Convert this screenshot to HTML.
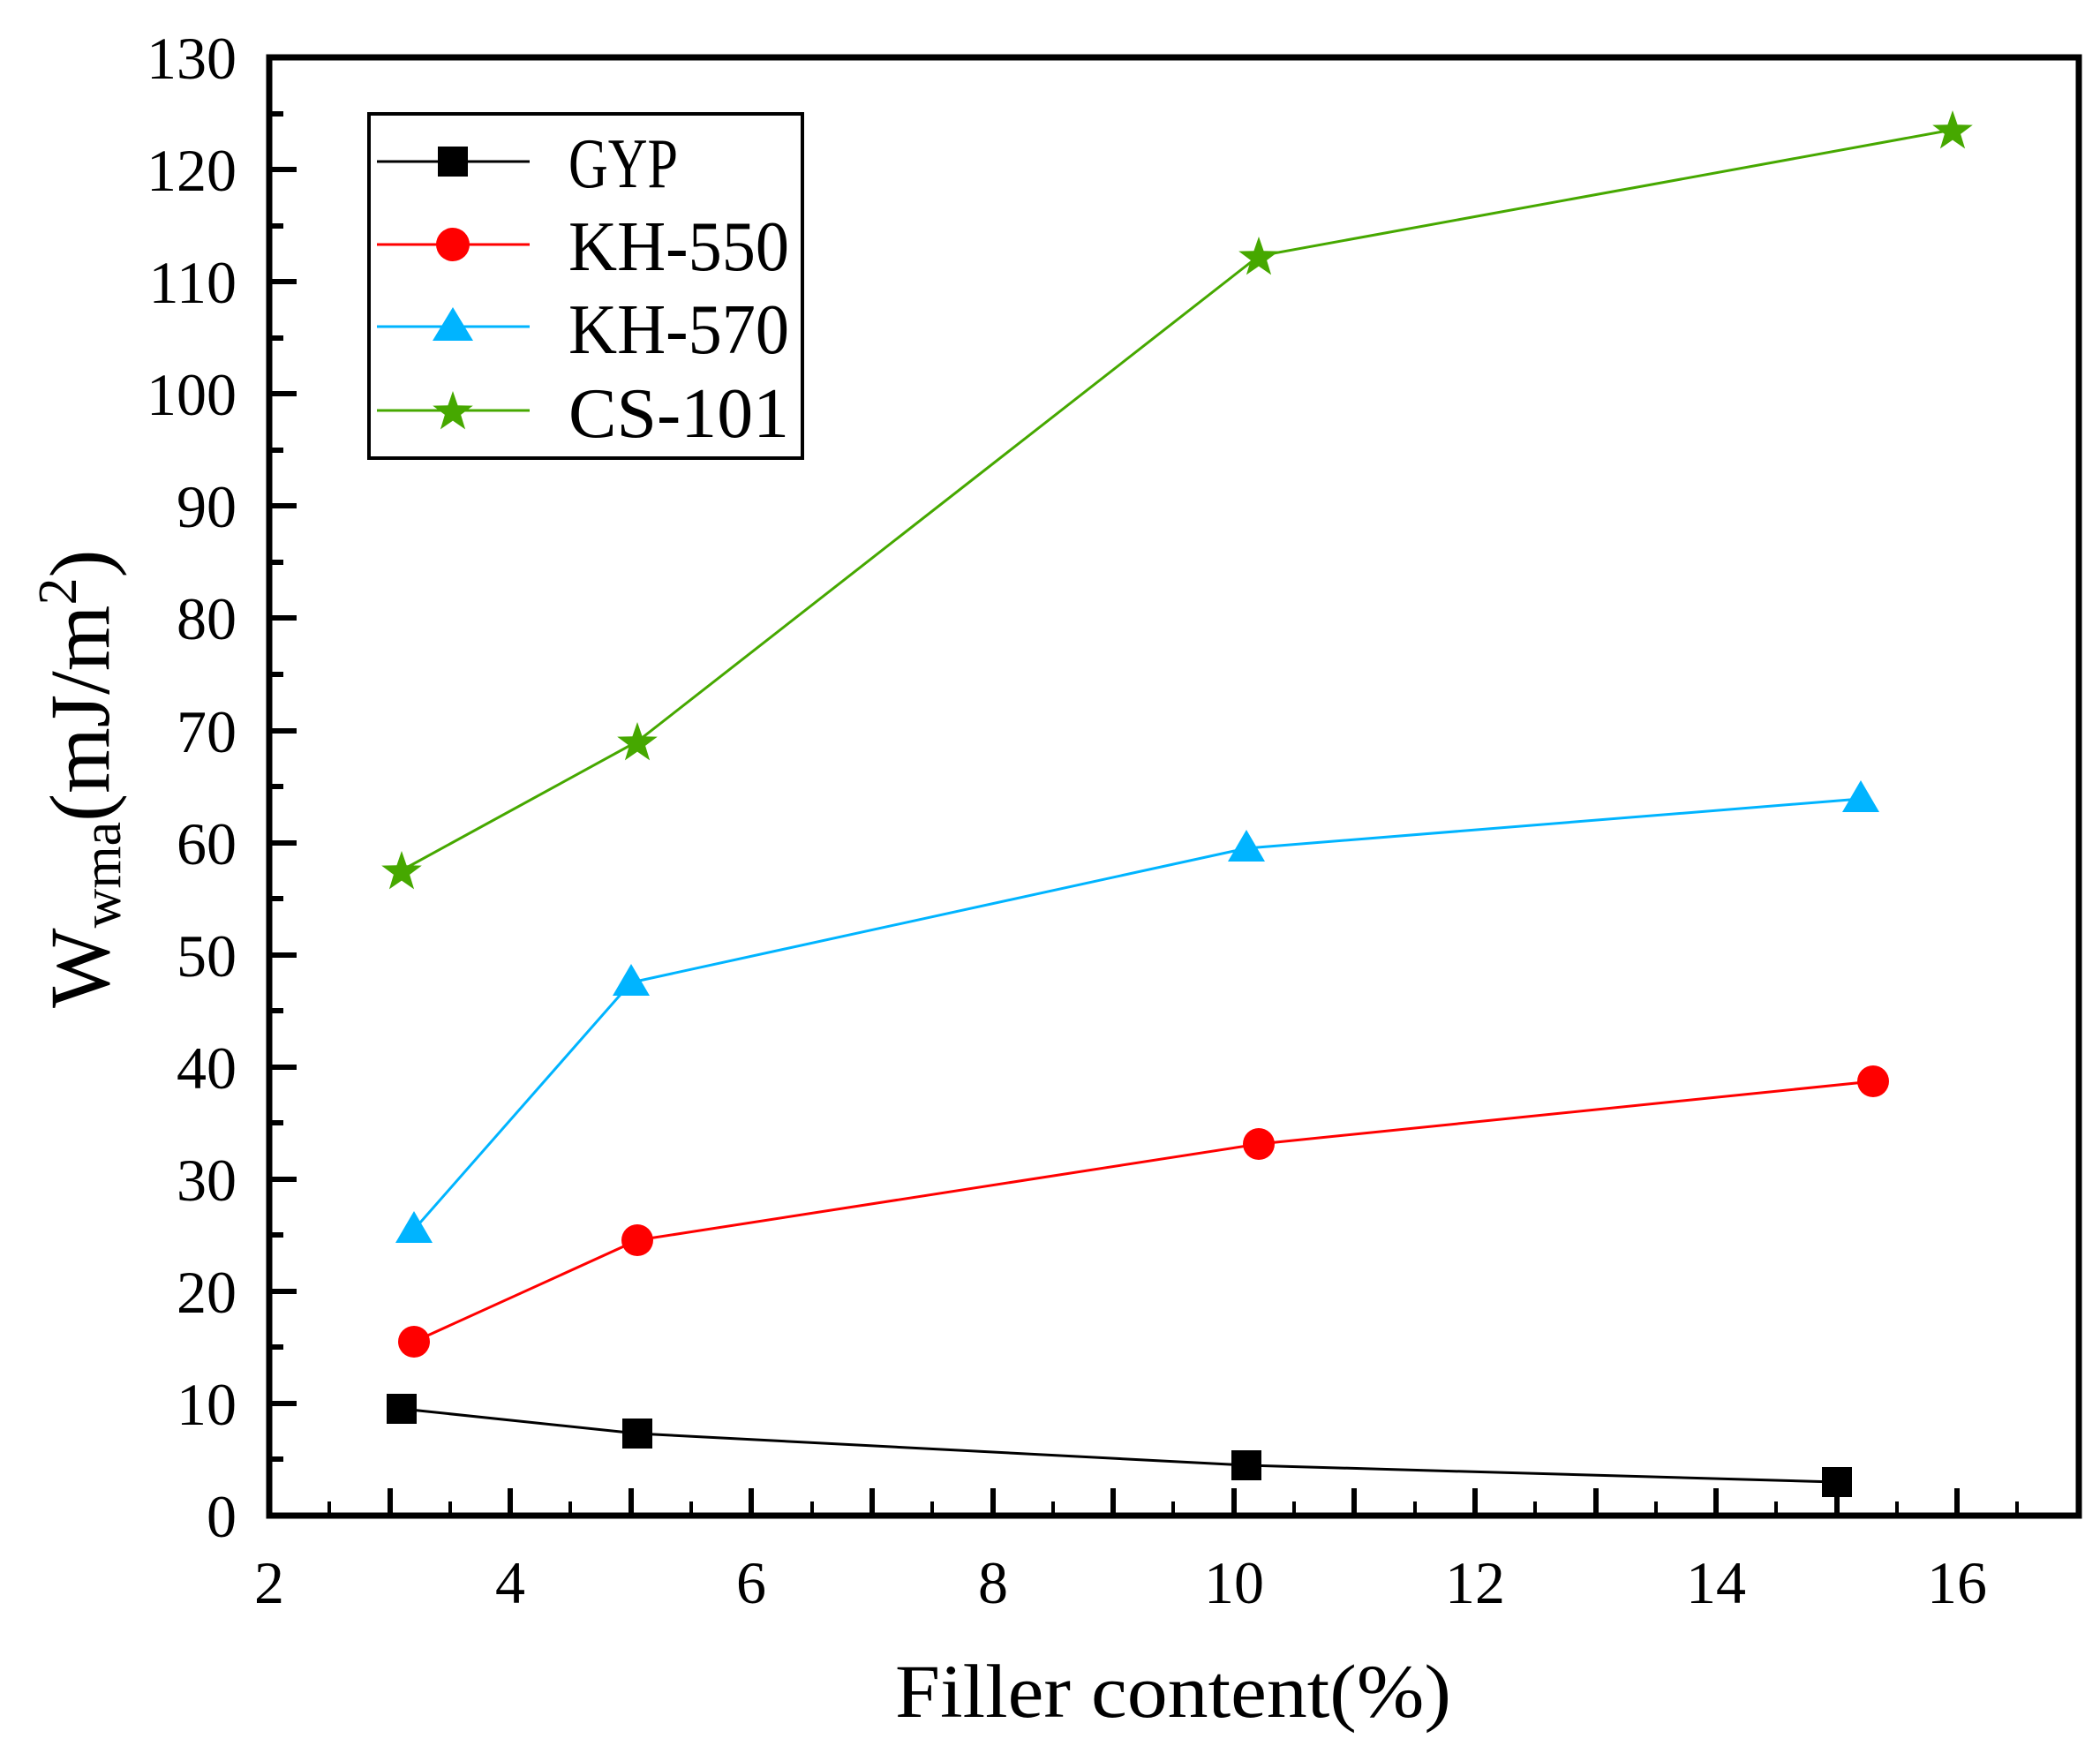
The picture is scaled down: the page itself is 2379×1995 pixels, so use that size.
<!DOCTYPE html>
<html><head><meta charset="utf-8"><style>html,body{margin:0;padding:0;background:#fff}svg{display:block}</style></head>
<body>
<svg width="2379" height="1995" viewBox="0 0 2379 1995" xmlns="http://www.w3.org/2000/svg" font-family="'Liberation Serif', serif">
<defs>
<path id="star" d="M0,-24 L5.6,-7.7 L22.8,-7.4 L9.1,2.9 L14.1,19.4 L0,9.6 L-14.1,19.4 L-9.1,2.9 L-22.8,-7.4 L-5.6,-7.7 Z"/>
</defs>
<g stroke="#000" stroke-width="6">
<path d="M305,1717h31M305,1590h31M305,1463h31M305,1336h31M305,1209h31M305,1082h31M305,955h31M305,828h31M305,700h31M305,573h31M305,446h31M305,319h31M305,192h31"/>
<path d="M305,1653h16M305,1526h16M305,1399h16M305,1272h16M305,1145h16M305,1018h16M305,891h16M305,764h16M305,637h16M305,510h16M305,383h16M305,256h16M305,129h16"/>
<path d="M305,1717v-31M442,1717v-31M578,1717v-31M715,1717v-31M851,1717v-31M988,1717v-31M1125,1717v-31M1261,1717v-31M1398,1717v-31M1534,1717v-31M1671,1717v-31M1808,1717v-31M1944,1717v-31M2081,1717v-31M2217,1717v-31"/>
</g>
<g stroke="#000" stroke-width="4">
<path d="M373,1717v-16M510,1717v-16M646,1717v-16M783,1717v-16M920,1717v-16M1056,1717v-16M1193,1717v-16M1329,1717v-16M1466,1717v-16M1603,1717v-16M1739,1717v-16M1876,1717v-16M2012,1717v-16M2149,1717v-16M2285,1717v-16"/>
</g>
<rect x="305" y="65" width="2050" height="1652" fill="none" stroke="#000" stroke-width="7"/>
<g font-size="68" text-anchor="end" fill="#000">
<text x="268" y="1741">0</text><text x="268" y="1614">10</text><text x="268" y="1487">20</text><text x="268" y="1360">30</text><text x="268" y="1233">40</text><text x="268" y="1106">50</text><text x="268" y="979">60</text><text x="268" y="852">70</text><text x="268" y="724">80</text><text x="268" y="597">90</text><text x="268" y="470">100</text><text x="268" y="343">110</text><text x="268" y="216">120</text><text x="268" y="89">130</text>
</g>
<g font-size="68" text-anchor="middle" fill="#000">
<text x="305" y="1816">2</text><text x="578" y="1816">4</text><text x="851" y="1816">6</text><text x="1125" y="1816">8</text><text x="1398" y="1816">10</text><text x="1671" y="1816">12</text><text x="1944" y="1816">14</text><text x="2217" y="1816">16</text>
</g>
<text x="1014" y="1945" font-size="86" textLength="630" lengthAdjust="spacingAndGlyphs">Filler content(%)</text>
<text transform="translate(123,1142) rotate(-90)" font-size="96">W<tspan font-size="62" dy="13">wma</tspan><tspan dy="-13">(mJ/m</tspan><tspan font-size="62" dy="-37">2</tspan><tspan dy="37">)</tspan></text>
<g fill="none" stroke-width="3">
<polyline stroke="#000" points="455,1596 722,1624 1412,1660 2081,1679"/>
<polyline stroke="#ff0000" points="469,1520 722,1405 1426,1296 2122,1225"/>
<polyline stroke="#00b4ff" points="469,1393 715,1113 1412,961 2108,905"/>
<polyline stroke="#46a800" points="455,986 722,840 1426,290 2212,147"/>
</g>
<g fill="#000">
<rect x="438" y="1579" width="34" height="34"/><rect x="705" y="1607" width="34" height="34"/><rect x="1395" y="1643" width="34" height="34"/><rect x="2064" y="1662" width="34" height="34"/>
</g>
<g fill="#ff0000">
<circle cx="469" cy="1520" r="18"/><circle cx="722" cy="1405" r="18"/><circle cx="1426" cy="1296" r="18"/><circle cx="2122" cy="1225" r="18"/>
</g>
<g fill="#00b4ff">
<path d="M469,1372 l21,36 h-42z"/><path d="M715,1092 l21,36 h-42z"/><path d="M1412,940 l21,36 h-42z"/><path d="M2108,884 l21,36 h-42z"/>
</g>
<g fill="#46a800">
<use href="#star" x="455" y="988"/><use href="#star" x="722" y="842"/><use href="#star" x="1426" y="292"/><use href="#star" x="2212" y="149"/>
</g>
<rect x="418" y="129" width="491" height="390" fill="#fff" stroke="#000" stroke-width="4"/>
<g stroke-width="3">
<path d="M427,183h173" stroke="#000"/><path d="M427,277h173" stroke="#ff0000"/><path d="M427,370h173" stroke="#00b4ff"/><path d="M427,465h173" stroke="#46a800"/>
</g>
<rect x="496" y="166" width="34" height="34" fill="#000"/>
<circle cx="513" cy="277" r="19" fill="#ff0000"/>
<path d="M513,348 l23,38 h-46z" fill="#00b4ff"/>
<use href="#star" x="513" y="467" fill="#46a800"/>
<g font-size="80" fill="#000">
<text x="644" y="212" textLength="124" lengthAdjust="spacingAndGlyphs">GYP</text>
<text x="644" y="306" textLength="250" lengthAdjust="spacingAndGlyphs">KH-550</text>
<text x="644" y="400" textLength="250" lengthAdjust="spacingAndGlyphs">KH-570</text>
<text x="644" y="495" textLength="250" lengthAdjust="spacingAndGlyphs">CS-101</text>
</g>
</svg>
</body></html>
